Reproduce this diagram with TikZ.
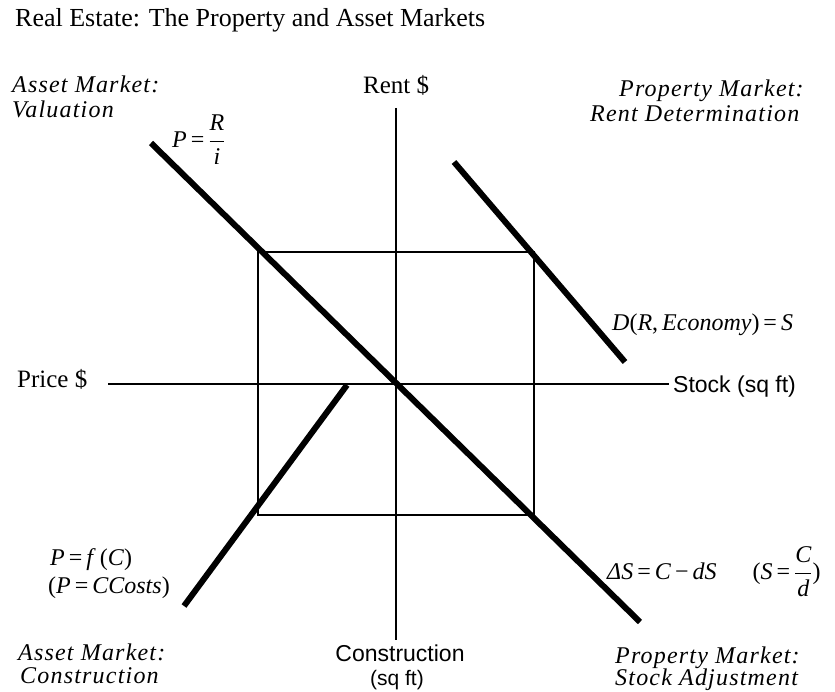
\documentclass[tikz,border=0pt]{standalone}
\usepackage{amsmath}
\usepackage{fontspec}
\setmainfont{Liberation Serif}
\newfontfamily\sansf{Liberation Sans}
\newfontfamily\labf[LetterSpace=5]{Liberation Serif}
\begin{document}
\begin{tikzpicture}[x=1pt,y=-1pt,
  txt/.style={inner sep=0pt,anchor=base west},
  quad/.style={txt,font=\labf\itshape\fontsize{24}{26}\selectfont},
  axlab/.style={txt,font=\fontsize{25}{27}\selectfont},
  sanslab/.style={txt,font=\sansf\fontsize{23}{26}\selectfont},
  eq/.style={inner sep=0pt,font=\fontsize{24}{26}\selectfont},
  curve/.style={line width=6pt},
  axis/.style={line width=1.8pt},
  box/.style={line width=1.2pt}]
\useasboundingbox (0,0) rectangle (835,692);
% title
\node[txt,font=\fontsize{26}{28}\selectfont] (title) at (15,27) {Real Estate: The Property and Asset Markets};
% quadrant labels
\node[quad] (avq1) at (12,93) {Asset Market:};
\node[quad] (avq2) at (12,118) {Valuation};
\node[quad] (prq1) at (619,97) {Property Market:};
\node[quad] (prq2) at (590,122) {Rent Determination};
\node[quad] (acq1) at (18,660) {Asset Market:};
\node[quad] (acq2) at (20,683) {Construction};
\node[quad] (psq1) at (615,663) {Property Market:};
\node[quad] (psq2) at (615,685) {Stock Adjustment};
% axis labels
\node[axlab] (rent) at (363,94) {Rent \$};
\node[axlab] (price) at (17,388) {Price \$};
\node[sanslab] (stock) at (673,392) {Stock (sq ft)};
\node[sanslab,anchor=base] (constr) at (400,661) {Construction};
\node[sanslab,anchor=base,font=\sansf\fontsize{21}{24}\selectfont] (sqft) at (397,685) {(sq ft)};
% axes
\coordinate (vtop) at (396,108);
\coordinate (vbot) at (396,640);
\coordinate (hl) at (108,384);
\coordinate (hr) at (669,384);
\draw[axis] (vtop) -- (vbot);
\draw[axis] (hl) -- (hr);
% rectangle
\draw[box] (258,252) rectangle (534,515);
% curves
\coordinate (a1) at (151,143);
\coordinate (a2) at (640,622);
\coordinate (b1) at (454,162);
\coordinate (b2) at (625,362);
\coordinate (c1) at (184,606);
\coordinate (c2) at (347,385);
\draw[curve] (a1) -- (a2);
\draw[curve] (b1) -- (b2);
\draw[curve] (c1) -- (c2);
% equations
\node[eq,anchor=west] (eqpri) at (172,140) {\textit{P}\,=\,$\dfrac{\text{\itshape R}}{\text{\itshape i}}$};
\node[eq,txt] (eqd) at (612,331) {\textit{D}(\textit{R},\,\textit{Economy})\,=\,\textit{S}};
\node[eq,txt] (eqf) at (50,565) {\textit{P}\,=\,\textit{f}\,(\textit{C})};
\node[eq,txt] (eqc) at (48,593) {(\textit{P}\,=\,\textit{CCosts})};
\node[eq,anchor=west] (eqs) at (607,572) {\textit{ΔS}\,=\,\textit{C}\,−\,\textit{dS}\quad\enspace(\textit{S}\,=\,$\dfrac{\text{\itshape C}}{\text{\itshape d}}$)};
\end{tikzpicture}
\end{document}
